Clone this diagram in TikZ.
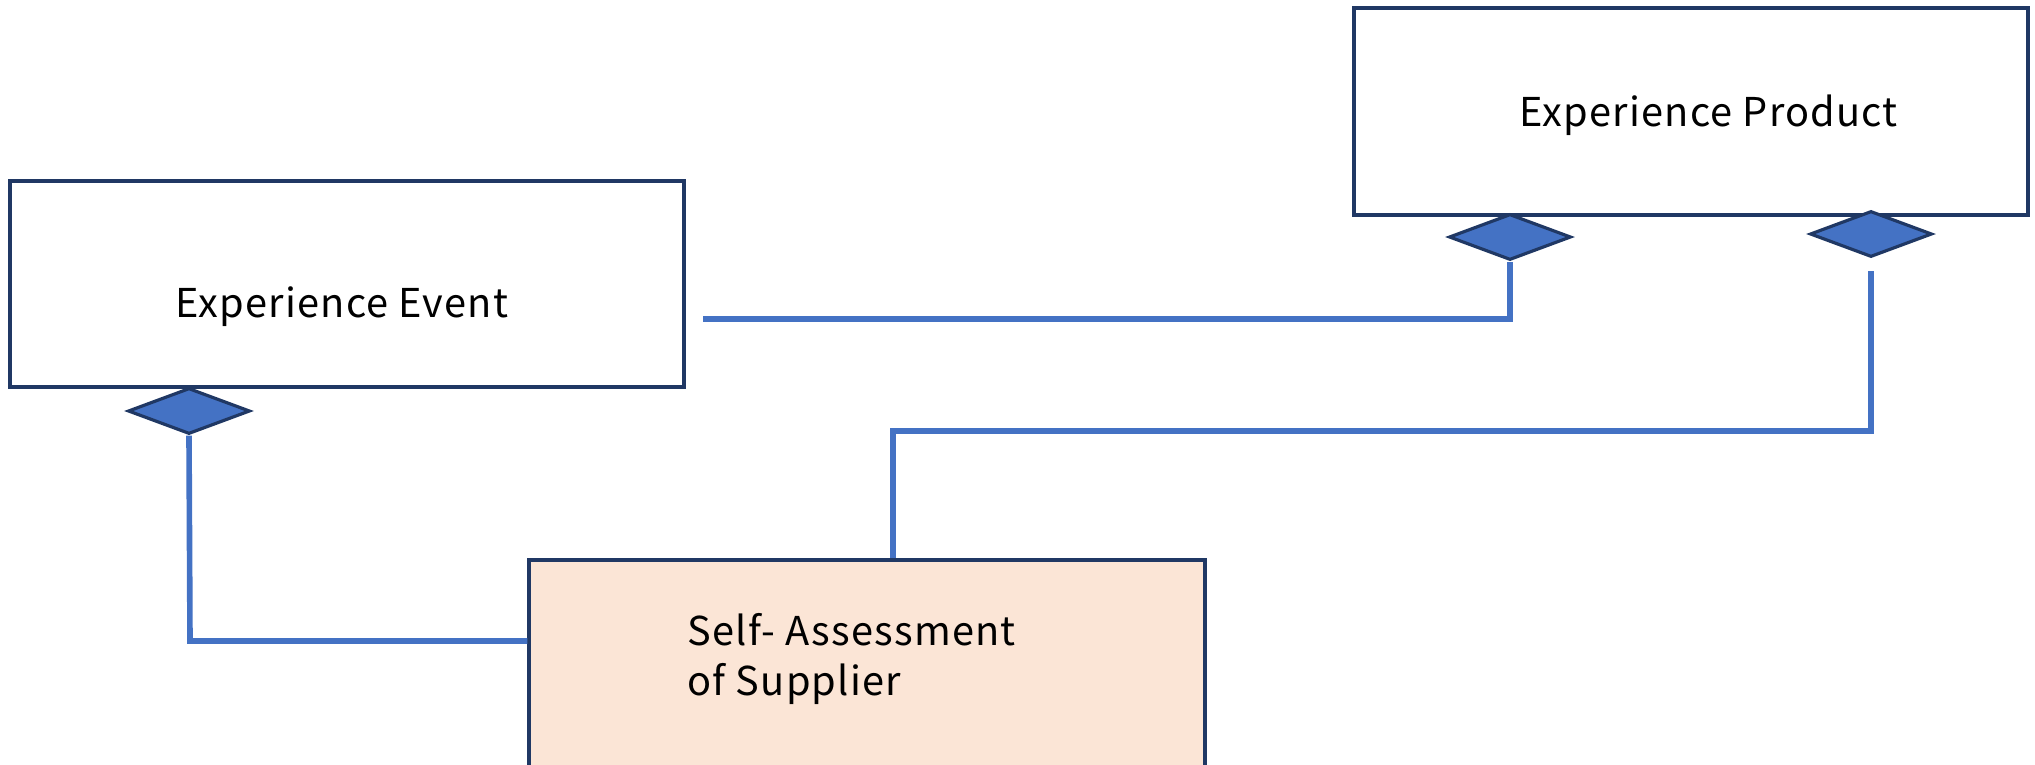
\documentclass[tikz,border=0pt]{standalone}
\usepackage{fontspec}
\setmainfont{Noto Sans CJK JP}[LetterSpace=3]
\usetikzlibrary{shapes.geometric}
\definecolor{boxline}{HTML}{203864}
\definecolor{conn}{HTML}{4472C4}
\definecolor{safill}{HTML}{FBE5D6}
\tikzset{
  entity/.style={draw=boxline, line width=0.9pt, rectangle, inner sep=0pt},
  label/.style={inner sep=0pt, font=\fontsize{11.3pt}{14.2pt}\selectfont},
  dmd/.style={draw=boxline, line width=0.9pt, fill=conn, shape=diamond, inner sep=0pt},
  link/.style={draw=conn, line width=1.6pt},
}
\begin{document}
\begin{tikzpicture}
\useasboundingbox (0,0) rectangle (20.35,-7.65);
% boxes
\node[entity, minimum width=6.74cm, minimum height=2.06cm] (EE) at (3.47,-2.84) {};
\node[entity, minimum width=6.74cm, minimum height=2.07cm] (EP) at (16.91,-1.115) {};
\node[entity, fill=safill, minimum width=6.76cm, minimum height=2.3cm] (SA) at (8.67,-6.75) {};
% texts
\node[label, anchor=base west] (tEE) at (1.75,-3.17) {Experience Event};
\node[label, anchor=base west] (tEP) at (15.19,-1.26) {Experience Product};
\node[label, anchor=base west, align=left] (tSA) at (6.87,-6.95) {Self- Assessment\\of Supplier};
% diamonds
\node[dmd, minimum width=1.22cm, minimum height=0.46cm] (D1) at (15.10,-2.37) {};
\node[dmd, minimum width=1.22cm, minimum height=0.46cm] (D2) at (18.71,-2.34) {};
\node[dmd, minimum width=1.22cm, minimum height=0.46cm] (D3) at (1.89,-4.11) {};
% connectors
\coordinate (a1) at (7.03,-3.19);
\draw[link] (a1) -- (a1 -| D1) -- (D1.south);
\coordinate (b1) at (18.71,-2.71);
\coordinate (b2) at (8.93,-4.31);
\draw[link] (b1) |- (b2) -- (b2 |- SA.north);
\coordinate (c1) at (1.90,-6.41);
\draw[link] (D3.south) -- (c1) -- (c1 -| SA.west);
\end{tikzpicture}
\end{document}
